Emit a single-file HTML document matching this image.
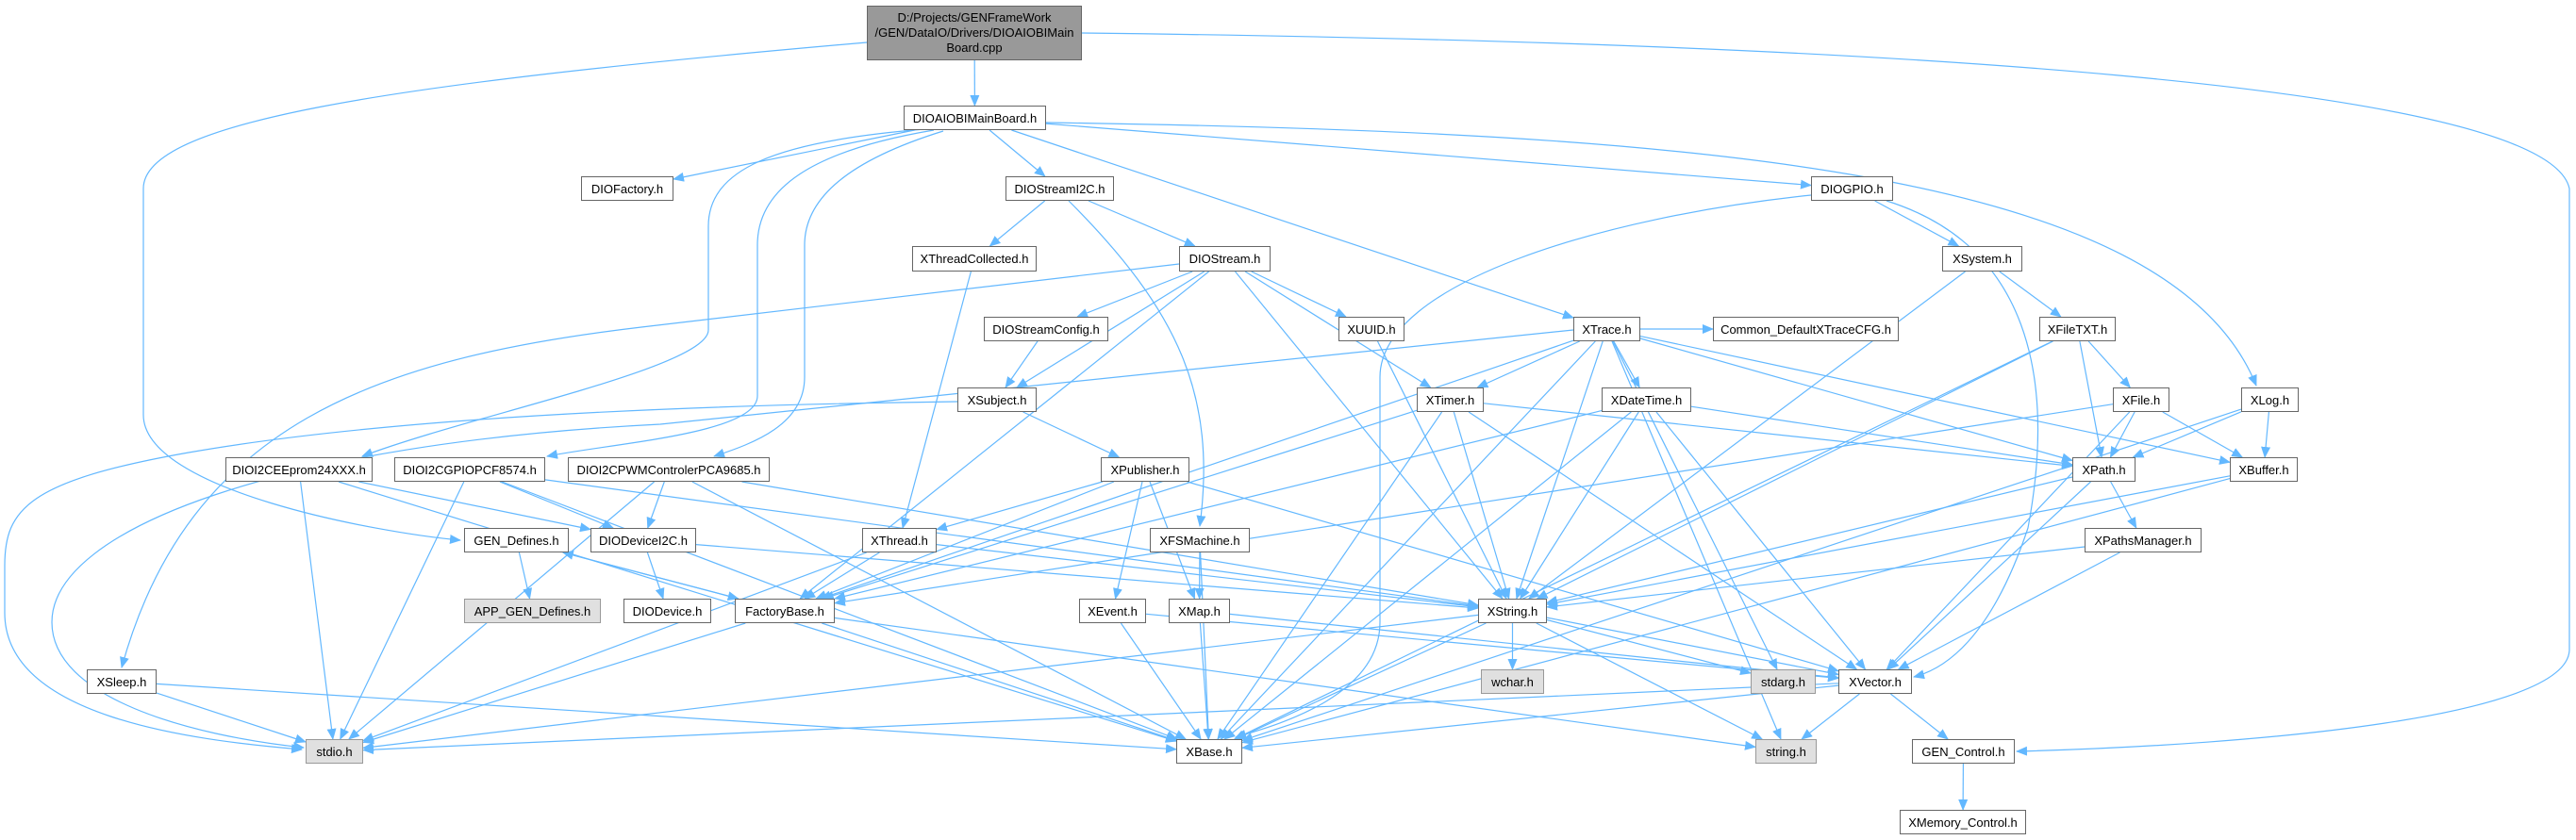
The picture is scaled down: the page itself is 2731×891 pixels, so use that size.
<!DOCTYPE html>
<html><head><meta charset="utf-8">
<style>
html,body{margin:0;padding:0;background:#fff;}
#wrap{position:relative;width:2731px;height:891px;overflow:hidden;background:#fff;}
svg{position:absolute;left:0;top:0;}
.n{position:absolute;box-sizing:border-box;border:1.5px solid #666;background:#fff;font-family:"Liberation Sans",sans-serif;font-size:13px;color:#000;display:flex;align-items:center;justify-content:center;white-space:nowrap;}
.g{background:#e0e0e0;border-color:#999;}
.r{background:#999;border-color:#666;white-space:normal;text-align:center;line-height:16px;font-size:13px;}
</style></head><body><div id="wrap">
<svg id="sv" width="2731" height="891" xmlns="http://www.w3.org/2000/svg">
<defs><marker id="a" markerWidth="12" markerHeight="10" refX="11" refY="5" orient="auto" markerUnits="userSpaceOnUse"><path d="M0,0 L12,5 L0,10 z" fill="#63b8ff"/></marker></defs>
<g id="eg" fill="none" stroke="#63b8ff" stroke-width="1.2"></g>
</svg>
<div class="n r" style="left:919px;top:6px;width:228px;height:58px;">D:/Projects/GENFrameWork<br>/GEN/DataIO/Drivers/DIOAIOBIMain<br>Board.cpp</div>
<div class="n" id="MB" style="left:958px;top:112px;width:151px;height:26px;">DIOAIOBIMainBoard.h</div>
<div class="n" style="left:616px;top:187px;width:98px;height:26px;">DIOFactory.h</div>
<div class="n" style="left:1066px;top:187px;width:115px;height:26px;">DIOStreamI2C.h</div>
<div class="n" style="left:1920px;top:187px;width:87px;height:26px;">DIOGPIO.h</div>
<div class="n" style="left:967px;top:261px;width:132px;height:27px;">XThreadCollected.h</div>
<div class="n" style="left:1250px;top:261px;width:97px;height:27px;">DIOStream.h</div>
<div class="n" style="left:2059px;top:261px;width:85px;height:27px;">XSystem.h</div>
<div class="n" style="left:1043px;top:336px;width:132px;height:26px;">DIOStreamConfig.h</div>
<div class="n" style="left:1419px;top:336px;width:70px;height:26px;">XUUID.h</div>
<div class="n" style="left:1668px;top:336px;width:71px;height:26px;">XTrace.h</div>
<div class="n" style="left:1816px;top:336px;width:197px;height:26px;">Common_DefaultXTraceCFG.h</div>
<div class="n" style="left:2162px;top:336px;width:81px;height:26px;">XFileTXT.h</div>
<div class="n" style="left:1015px;top:411px;width:84px;height:26px;">XSubject.h</div>
<div class="n" style="left:1502px;top:411px;width:71px;height:26px;">XTimer.h</div>
<div class="n" style="left:1698px;top:411px;width:95px;height:26px;">XDateTime.h</div>
<div class="n" style="left:2240px;top:411px;width:60px;height:26px;">XFile.h</div>
<div class="n" style="left:2376px;top:411px;width:61px;height:26px;">XLog.h</div>
<div class="n" style="left:239px;top:485px;width:156px;height:26px;">DIOI2CEEprom24XXX.h</div>
<div class="n" style="left:418px;top:485px;width:160px;height:26px;">DIOI2CGPIOPCF8574.h</div>
<div class="n" style="left:602px;top:485px;width:214px;height:26px;">DIOI2CPWMControlerPCA9685.h</div>
<div class="n" style="left:1167px;top:485px;width:94px;height:26px;">XPublisher.h</div>
<div class="n" style="left:2197px;top:485px;width:67px;height:26px;">XPath.h</div>
<div class="n" style="left:2364px;top:485px;width:72px;height:26px;">XBuffer.h</div>
<div class="n" style="left:492px;top:560px;width:111px;height:26px;">GEN_Defines.h</div>
<div class="n" style="left:626px;top:560px;width:112px;height:26px;">DIODeviceI2C.h</div>
<div class="n" style="left:914px;top:560px;width:79px;height:26px;">XThread.h</div>
<div class="n" style="left:1219px;top:560px;width:106px;height:26px;">XFSMachine.h</div>
<div class="n" style="left:2210px;top:560px;width:124px;height:26px;">XPathsManager.h</div>
<div class="n g" style="left:492px;top:635px;width:145px;height:26px;">APP_GEN_Defines.h</div>
<div class="n" style="left:661px;top:635px;width:93px;height:26px;">DIODevice.h</div>
<div class="n" style="left:779px;top:635px;width:106px;height:26px;">FactoryBase.h</div>
<div class="n" style="left:1144px;top:635px;width:71px;height:26px;">XEvent.h</div>
<div class="n" style="left:1239px;top:635px;width:65px;height:26px;">XMap.h</div>
<div class="n" style="left:1567px;top:635px;width:73px;height:26px;">XString.h</div>
<div class="n" style="left:92px;top:710px;width:74px;height:26px;">XSleep.h</div>
<div class="n g" style="left:1570px;top:710px;width:67px;height:26px;">wchar.h</div>
<div class="n g" style="left:1856px;top:710px;width:69px;height:26px;">stdarg.h</div>
<div class="n" style="left:1949px;top:710px;width:78px;height:26px;">XVector.h</div>
<div class="n g" style="left:324px;top:784px;width:61px;height:26px;">stdio.h</div>
<div class="n" style="left:1247px;top:784px;width:70px;height:26px;">XBase.h</div>
<div class="n g" style="left:1861px;top:784px;width:65px;height:26px;">string.h</div>
<div class="n" style="left:2027px;top:784px;width:109px;height:26px;">GEN_Control.h</div>
<div class="n" style="left:2014px;top:859px;width:134px;height:26px;">XMemory_Control.h</div>
</div>
<script>
var N={root:[919,1147,6,64],MB:[958,1109,112,138],DF:[616,714,187,213],SI:[1066,1181,187,213],GP:[1920,2007,187,213],
TC:[967,1099,261,288],DS:[1250,1347,261,288],SY:[2059,2144,261,288],SC:[1043,1175,336,362],UU:[1419,1489,336,362],
TR:[1668,1739,336,362],CO:[1816,2013,336,362],FT:[2162,2243,336,362],SU:[1015,1099,411,437],TI:[1502,1573,411,437],
DT:[1698,1793,411,437],FI:[2240,2300,411,437],LG:[2376,2437,411,437],EE:[239,395,485,511],PC:[418,578,485,511],
PW:[602,816,485,511],PU:[1167,1261,485,511],PA:[2197,2264,485,511],BU:[2364,2436,485,511],GD:[492,603,560,586],
DI:[626,738,560,586],TH:[914,993,560,586],FS:[1219,1325,560,586],PM:[2210,2334,560,586],AG:[492,637,635,661],
DD:[661,754,635,661],FB:[779,885,635,661],EV:[1144,1215,635,661],MP:[1239,1304,635,661],XS:[1567,1640,635,661],
SL:[92,166,710,736],WC:[1570,1637,710,736],SA:[1856,1925,710,736],XV:[1949,2027,710,736],ST:[324,385,784,810],
XB:[1247,1317,784,810],SG:[1861,1926,784,810],GC:[2027,2136,784,810],XM:[2014,2148,859,885]};
var E=[["root","MB"],["MB","DF"],["MB","SI"],["MB","GP"],["MB","TR"],["SI","TC"],["SI","DS"],["TC","TH"],
["DS","SC"],["DS","SU"],["DS","UU"],["DS","TI"],["DS","XS"],["DS","FB"],["SC","SU"],["SU","PU"],
["PU","TH"],["PU","EV"],["PU","MP"],["PU","XV"],["PU","FB"],["FS","MP"],["FS","XB"],["EV","XB"],["EV","XV"],["MP","XB"],["MP","XV"],
["TH","FB"],["TH","ST"],["TH","XS"],["FB","XB"],["FB","ST"],["FB","SG"],["FB","GD"],["GD","AG"],["GD","FB"],["DI","DD"],["DI","XS"],
["EE","DI"],["EE","ST"],["EE","XB"],["PC","DI"],["PC","ST"],["PC","XB"],["PC","XS"],["PW","DI"],["PW","ST"],["PW","XB"],["PW","XS"],
["SL","ST"],["SL","XB"],["UU","XS"],["TR","TI"],["TR","DT"],["TR","CO"],["TR","XS"],["TR","SA"],["TR","BU"],["TR","PA"],["TR","SG"],["TR","FB"],["TR","XB"],
["TI","XS"],["TI","XV"],["TI","PA"],["TI","FB"],["TI","XB"],["DT","XS"],["DT","XV"],["DT","PA"],["DT","XB"],["DT","FB"],
["GP","SY"],["SY","FT"],["SY","XS"],["FT","FI"],["FT","PA"],["FT","XS"],["FT","XB"],
["FI","PA"],["FI","BU"],["FI","XV"],["FI","FB"],["LG","PA"],["LG","BU"],["LG","XB"],["PA","PM"],["PA","XS"],["PA","XV"],
["BU","XS"],["BU","XB"],["PM","XS"],["PM","XV"],["XS","WC"],["XS","SA"],["XS","XV"],["XS","SG"],["XS","XB"],["XS","ST"],
["XV","XB"],["XV","SG"],["XV","GC"],["XV","ST"],["GC","XM"]];
var C=["M 919 45 C 400 90, 152 130, 152 200 L 152 440 C 152 520, 400 565, 488 573",
"M 1147 35 C 2000 45, 2700 90, 2724 200 L 2724 690 C 2720 760, 2400 790, 2138 797",
"M 980 137 C 820 150, 751 180, 751 240 L 751 350 C 751 390, 500 440, 384 484",
"M 990 138 C 860 160, 803 200, 803 260 L 803 420 C 803 460, 650 470, 580 484",
"M 1000 139 C 900 170, 853 210, 853 260 L 853 400 C 853 450, 800 470, 757 484",
"M 1109 130 C 1800 140, 2300 180, 2392 409",
"M 1133 213 C 1250 330, 1290 420, 1272 558",
"M 1250 280 L 680 347 C 400 380, 200 450, 129 708",
"M 1015 426 C 700 430, 400 445, 200 480 C 30 510, 5 540, 5 600 L 5 650 C 5 760, 200 785, 320 795",
"M 1668 350 L 700 450 C 300 470, 55 560, 55 660 C 55 740, 200 780, 322 793",
"M 1920 207 C 1700 230, 1463 300, 1463 400 L 1463 660 C 1463 740, 1350 770, 1310 782",
"M 2000 213 C 2150 260, 2180 400, 2150 560 C 2110 680, 2060 710, 2029 718"];
var g=document.getElementById("eg"),ns="http://www.w3.org/2000/svg";
function ctr(b){return[(b[0]+b[1])/2,(b[2]+b[3])/2];}
function edge(b,p){var c=ctr(b),dx=p[0]-c[0],dy=p[1]-c[1],hw=(b[1]-b[0])/2,hh=(b[3]-b[2])/2;
var t=Math.min(dx?hw/Math.abs(dx):1e9,dy?hh/Math.abs(dy):1e9);return[c[0]+dx*t,c[1]+dy*t];}
function add(d){var p=document.createElementNS(ns,"path");p.setAttribute("d",d);p.setAttribute("marker-end","url(#a)");g.appendChild(p);}
E.forEach(function(e){var s=N[e[0]],t=N[e[1]];var a=edge(s,ctr(t)),b=edge(t,ctr(s));
add("M "+a[0].toFixed(1)+" "+a[1].toFixed(1)+" L "+b[0].toFixed(1)+" "+b[1].toFixed(1));});
C.forEach(add);
</script>
</body></html>
